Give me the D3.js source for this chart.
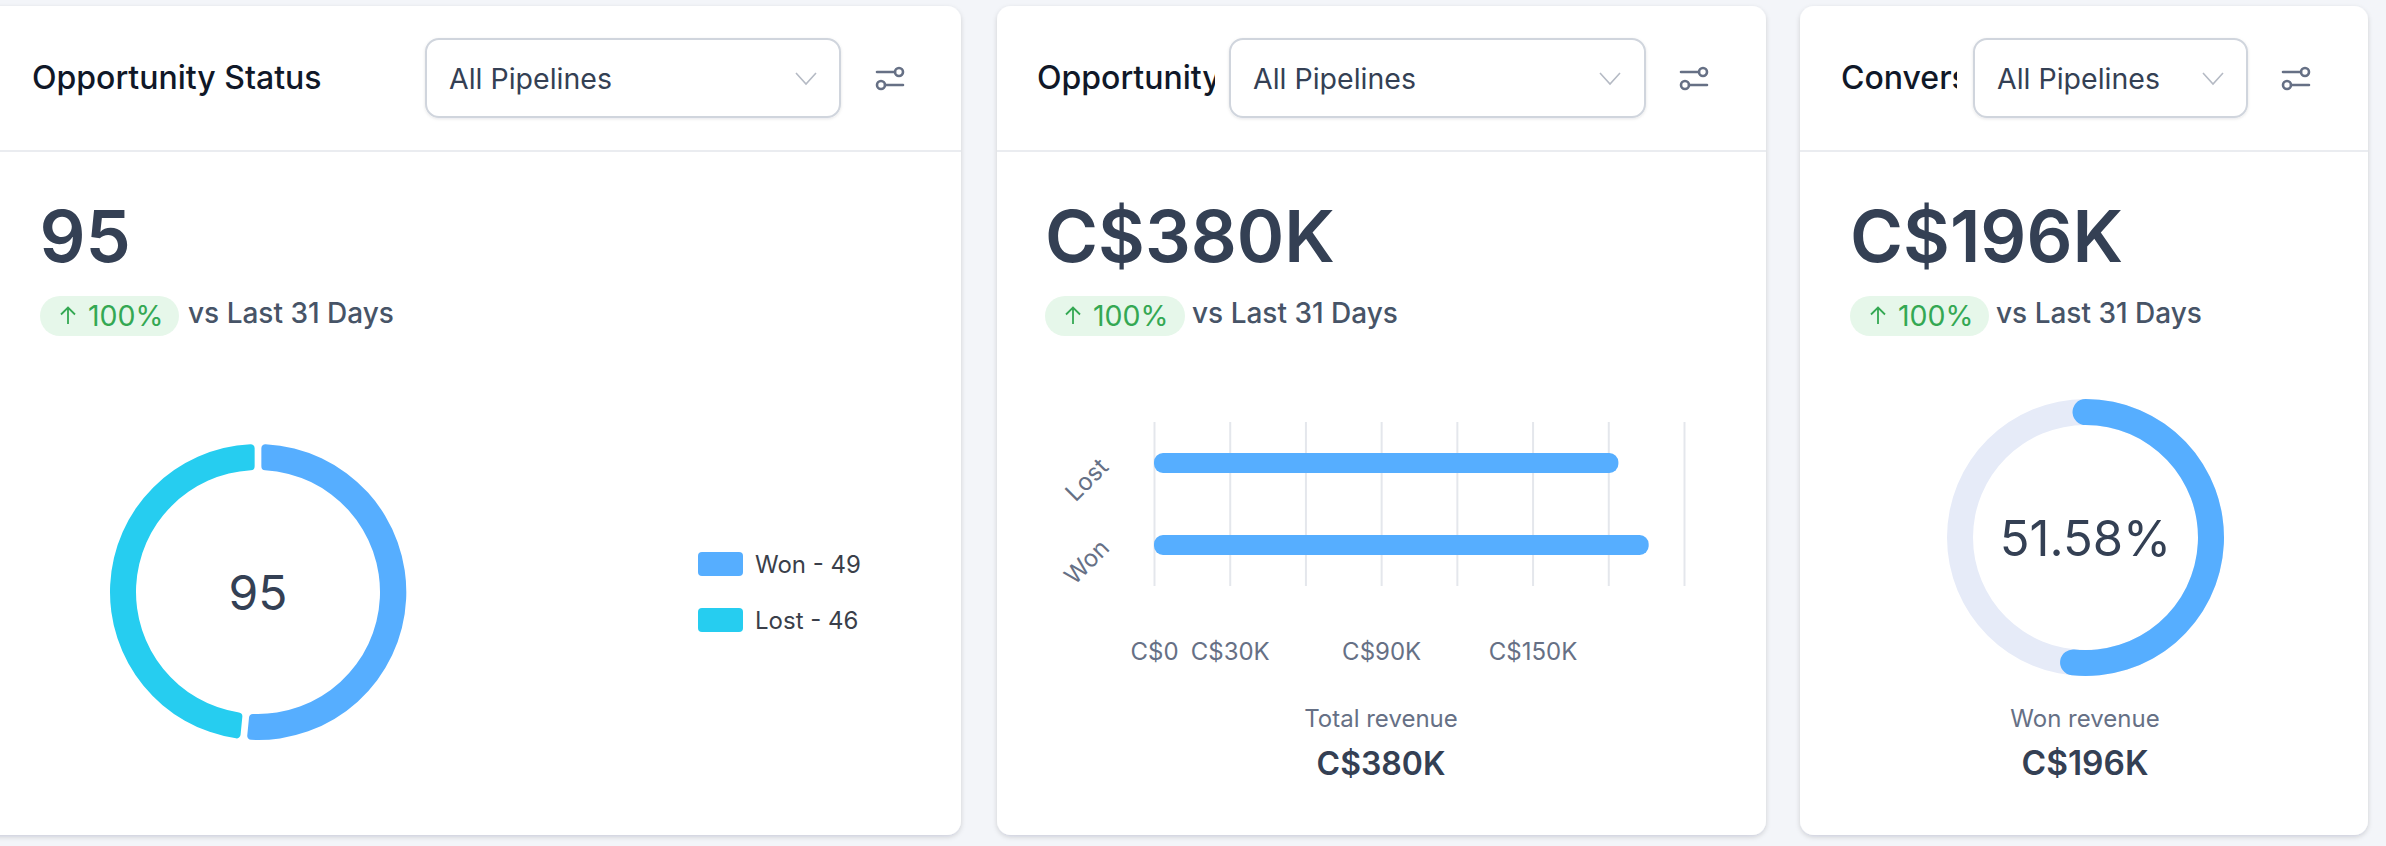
<!DOCTYPE html>
<html><head><meta charset="utf-8">
<style>
html,body{margin:0;padding:0;background:#f3f5f9;width:2386px;height:846px;overflow:hidden}
svg{display:block}
text{font-family:Inter,"Noto Sans",sans-serif}
</style>
<script src="https://cdn.jsdelivr.net/npm/d3@7"></script>
</head><body><svg id="c" width="2386" height="846"></svg>
<script>
// ---- data ----
const cardTitles = ["Opportunity Status", "Opportunity", "Convers"];
const bigValues = ["95", "C$380K", "C$196K"];
const changeText = "100%";
const compareText = "vs Last 31 Days";
const selectText = "All Pipelines";
const statusLabels = ["Won", "Lost"];
const statusValues = [49, 46];
const revenueLabels = ["Lost", "Won"];
const revenueValues = [184, 196];          // C$ thousands
const xTicks = [0, 30, 60, 90, 120, 150, 180, 210];
const xTickLabels = ["C$0", "C$30K", "", "C$90K", "", "C$150K", "", ""];
const totalLabel = "Total revenue", totalValue = "C$380K";
const wonLabel = "Won revenue", wonValue = "C$196K";
const conversionPercent = 51.58;

// ---- layout ----
const BLUE = "#56aeff", CYAN = "#26cdf0", INK = "#344054", MUTED = "#667085";
const panels = [
  {l:-30,r:961,titleX:32,clip:426,selL:426,selR:840,chev:806,gear:890,bigX:39.5,badgeL:40,badgeR:179,vs:188},
  {l:997,r:1766,titleX:1037,clip:1215,selL:1230,selR:1645,chev:1610,gear:1694,bigX:1045,badgeL:1045,badgeR:1185,vs:1192},
  {l:1800,r:2368,titleX:1841,clip:1957,selL:1974,selR:2247,chev:2213,gear:2296,bigX:1850,badgeL:1850,badgeR:1989,vs:1996}
];
const svg = d3.select("#c");
const defs = svg.append("defs");
const sh = defs.append("filter").attr("id","sh").attr("x","-5%").attr("y","-5%").attr("width","110%").attr("height","110%");
sh.append("feDropShadow").attr("dx",0).attr("dy",2).attr("stdDeviation",2.5).attr("flood-color","#101828").attr("flood-opacity",0.16);
const sh2 = defs.append("filter").attr("id","sh2").attr("x","-5%").attr("y","-10%").attr("width","110%").attr("height","125%");
sh2.append("feDropShadow").attr("dx",0).attr("dy",1).attr("stdDeviation",1.5).attr("flood-color","#101828").attr("flood-opacity",0.10);

panels.forEach((p,i)=>{
  const g = svg.append("g");
  g.append("rect").attr("x",p.l).attr("y",6).attr("width",p.r-p.l).attr("height",829).attr("rx",14).attr("fill","#fff").attr("filter","url(#sh)");
  g.append("line").attr("x1",p.l).attr("x2",p.r).attr("y1",151).attr("y2",151).attr("stroke","#eaecf0").attr("stroke-width",2);
  defs.append("clipPath").attr("id","t"+i).append("rect").attr("x",p.titleX-4).attr("y",40).attr("width",p.clip-p.titleX+4).attr("height",80);
  g.append("g").attr("clip-path",`url(#t${i})`).append("text").attr("x",p.titleX).attr("y",89).attr("font-size",32).attr("font-weight",500).attr("fill","#101828").text(cardTitles[i]);
  g.append("rect").attr("x",p.selL).attr("y",39).attr("width",p.selR-p.selL).attr("height",78).attr("rx",13).attr("fill","#fff").attr("stroke","#d0d5dd").attr("stroke-width",2).attr("filter","url(#sh2)");
  g.append("text").attr("x",p.selL+23).attr("y",88.5).attr("font-size",28.5).attr("fill","#344054").text(selectText);
  g.append("path").attr("d",`M${p.chev-10},73 L${p.chev},84 L${p.chev+10},73`).attr("fill","none").attr("stroke","#b5bac4").attr("stroke-width",1.6);
  const gi = g.append("g").attr("transform",`translate(${p.gear},78)`).attr("fill","none").attr("stroke","#667085").attr("stroke-width",2.6).attr("stroke-linecap","round");
  gi.append("path").attr("d","M-13,-6 H5 M-5,7 H13");
  gi.append("circle").attr("cx",9).attr("cy",-6).attr("r",4);
  gi.append("circle").attr("cx",-9).attr("cy",7).attr("r",4);
  g.append("text").attr("x",p.bigX).attr("y",262).attr("font-size",72).attr("font-weight",600).attr("fill",INK).text(bigValues[i]);
  g.append("rect").attr("x",p.badgeL).attr("y",296).attr("width",p.badgeR-p.badgeL).attr("height",40).attr("rx",20).attr("fill","#e6f7ea");
  const ax = p.badgeL+28;
  g.append("path").attr("d",`M${ax},324 V308 M${ax-7},314.5 L${ax},307.5 L${ax+7},314.5`).attr("fill","none").attr("stroke","#34a853").attr("stroke-width",1.8);
  g.append("text").attr("x",p.badgeL+48).attr("y",326).attr("font-size",28.5).attr("fill","#34a853").text(changeText);
  g.append("text").attr("x",p.vs).attr("y",322.5).attr("font-size",28).attr("font-weight",500).attr("fill","#475467").text(compareText);
});

// ---- donut ----
const dg = svg.append("g").attr("transform","translate(258,592)");
const pie = d3.pie().sort(null).padAngle(0.035);
const arcD = d3.arc().innerRadius(122).outerRadius(148).cornerRadius(4);
const colorS = d3.scaleOrdinal().domain(statusLabels).range([BLUE,CYAN]);
dg.selectAll("path").data(pie(statusValues)).join("path").attr("d",arcD).attr("fill",(d,i)=>colorS(statusLabels[i]));
dg.append("text").attr("text-anchor","middle").attr("y",18).attr("font-size",48).attr("fill",INK)
  .text(d3.sum(statusValues));
const legendY = d3.scalePoint().domain(statusLabels).range([564,620]);
statusLabels.forEach((s,i)=>{
  svg.append("rect").attr("x",698).attr("y",legendY(s)-12).attr("width",45).attr("height",24).attr("rx",4).attr("fill",colorS(s));
  svg.append("text").attr("x",755).attr("y",legendY(s)+9).attr("font-size",24).attr("fill","#3a3f4a").text(`${s} - ${statusValues[i]}`);
});

// ---- bars ----
const x = d3.scaleLinear().domain([0,210]).range([1154,1684]);
const barY = d3.scalePoint().domain(revenueLabels).range([463,545]);
const xAxis = d3.axisBottom(x).tickValues(xTicks).tickSize(164).tickPadding(57)
  .tickFormat((d,i)=>xTickLabels[i]);
const ag = svg.append("g").attr("transform","translate(0,422)").call(xAxis);
ag.select(".domain").remove();
ag.selectAll("line").attr("stroke","#e4e7ec").attr("stroke-width",2);
ag.selectAll("text").attr("font-size",24).attr("fill",MUTED).attr("font-family","Inter");
svg.selectAll("rect.bar").data(revenueValues).join("rect").attr("class","bar")
  .attr("x",x(0)).attr("y",(d,i)=>barY(revenueLabels[i])-10)
  .attr("width",d=>x(d)-x(0)).attr("height",20).attr("rx",9).attr("fill",BLUE);
revenueLabels.forEach(l=>{
  svg.append("text").attr("transform",`translate(1088,${barY(l)+18}) rotate(-45)`)
    .attr("text-anchor","middle").attr("dominant-baseline","middle").attr("font-size",24).attr("fill",MUTED).text(l);
});
svg.append("text").attr("x",1381).attr("y",727).attr("text-anchor","middle").attr("font-size",32).attr("font-size",24).attr("fill",MUTED).text(totalLabel);
svg.append("text").attr("x",1381).attr("y",775).attr("text-anchor","middle").attr("font-size",32).attr("font-weight",600).attr("fill",INK).text(totalValue);

// ---- gauge ----
const gg = svg.append("g").attr("transform","translate(2085.5,537.5)");
const angle = d3.scaleLinear().domain([0,100]).range([0,2*Math.PI]);
const capA = 13/125.5;
gg.append("path").attr("d",d3.arc().innerRadius(112.5).outerRadius(138.5).startAngle(0).endAngle(2*Math.PI)()).attr("fill","#e6ebf8");
gg.append("path").attr("d",d3.arc().innerRadius(112.5).outerRadius(138.5).cornerRadius(13)
  .startAngle(angle(0)-capA).endAngle(angle(conversionPercent)+capA)()).attr("fill",BLUE);
gg.append("text").attr("text-anchor","middle").attr("x",0).attr("y",18).attr("font-size",49).attr("fill",INK).text(conversionPercent.toFixed(2)+"%");
svg.append("text").attr("x",2085).attr("y",727).attr("text-anchor","middle").attr("font-size",24).attr("fill",MUTED).text(wonLabel);
svg.append("text").attr("x",2085).attr("y",775).attr("text-anchor","middle").attr("font-size",33.5).attr("font-weight",600).attr("fill",INK).text(wonValue);
</script></body></html>
